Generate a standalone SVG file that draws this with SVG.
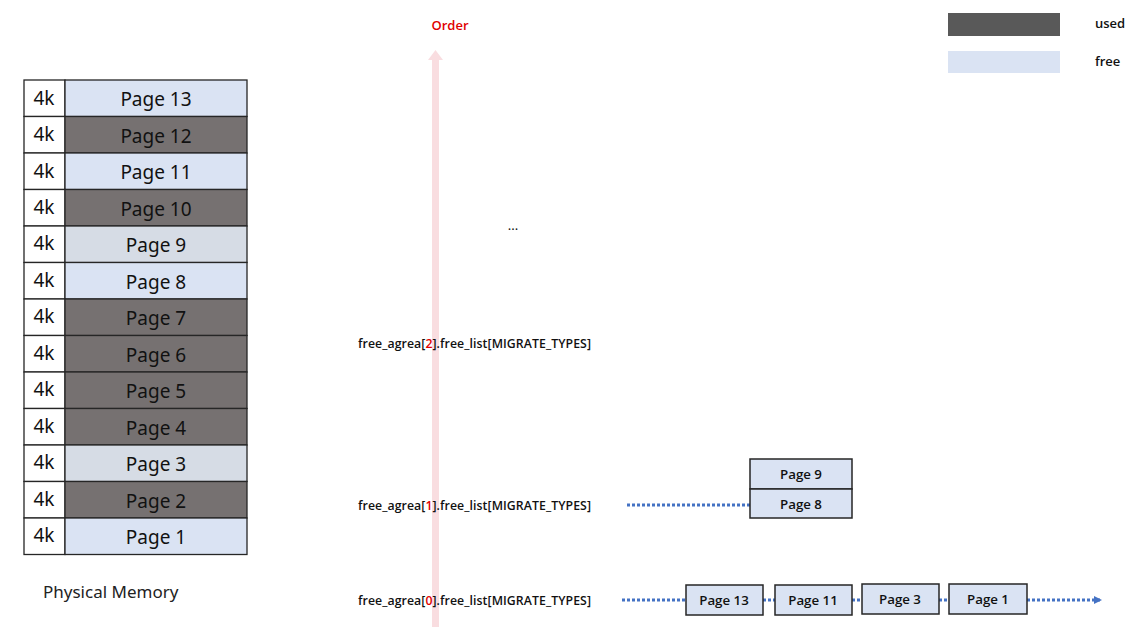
<svg xmlns="http://www.w3.org/2000/svg" width="1139" height="627" viewBox="0 0 1139 627">
<style>
.cell{stroke:#262626;stroke-width:1.3}
.k{fill:#fff}
.free{fill:#DAE3F3}
.used{fill:#767171}
.grey{fill:#D6DCE5}
.t{font-family:"Noto Sans","Open Sans",sans-serif;font-size:19px;fill:#111;text-anchor:middle}
.lbl{font-family:"Open Sans","Noto Sans",sans-serif;font-size:12.3px;font-weight:600;fill:#111}
.red{fill:#E00000}
.box{fill:#DAE3F3;stroke:#262626;stroke-width:1.5}
.bt{font-family:"Open Sans","Noto Sans",sans-serif;font-size:13.3px;font-weight:600;fill:#111;text-anchor:middle}
.dot{stroke:#4472C4;stroke-width:3;stroke-dasharray:3 2;fill:none}
</style>
<defs>
<marker id="ah" markerWidth="8" markerHeight="8" refX="6" refY="4" orient="auto" markerUnits="userSpaceOnUse">
<path d="M0,0 L8,4 L0,8 Z" fill="#4472C4"/>
</marker>
</defs>
<rect width="1139" height="627" fill="#fff"/>
<g id="order-arrow">
<path d="M432,627 L432,60 L428,60 L435.5,50 L443,60 L439,60 L439,627 Z" fill="#F9DDE0"/>
</g>
<text x="450" y="30" class="lbl red" style="font-size:13px" text-anchor="middle" font-weight="700">Order</text>
<g id="legend">
<rect x="948" y="13" width="112" height="23" fill="#595959"/>
<text x="1095" y="28" class="lbl" style="font-size:13px">used</text>
<rect x="948" y="51" width="112" height="22" fill="#DAE3F3"/>
<text x="1095" y="66" class="lbl" style="font-size:13px">free</text>
</g>
<g id="physical-memory">
<rect class="cell k" x="24" y="80" width="41" height="36.5"/><rect class="cell free" x="65" y="80" width="182" height="36.5"/><text class="t" x="44" y="105">4k</text><text class="t" x="156" y="106">Page 13</text>
<rect class="cell k" x="24" y="116.5" width="41" height="36.5"/><rect class="cell used" x="65" y="116.5" width="182" height="36.5"/><text class="t" x="44" y="141">4k</text><text class="t" x="156" y="143">Page 12</text>
<rect class="cell k" x="24" y="153" width="41" height="36.5"/><rect class="cell free" x="65" y="153" width="182" height="36.5"/><text class="t" x="44" y="178">4k</text><text class="t" x="156" y="179">Page 11</text>
<rect class="cell k" x="24" y="189.5" width="41" height="36.5"/><rect class="cell used" x="65" y="189.5" width="182" height="36.5"/><text class="t" x="44" y="214">4k</text><text class="t" x="156" y="216">Page 10</text>
<rect class="cell k" x="24" y="226" width="41" height="36.5"/><rect class="cell grey" x="65" y="226" width="182" height="36.5"/><text class="t" x="44" y="250">4k</text><text class="t" x="156" y="252">Page 9</text>
<rect class="cell k" x="24" y="262.5" width="41" height="36.5"/><rect class="cell free" x="65" y="262.5" width="182" height="36.5"/><text class="t" x="44" y="287">4k</text><text class="t" x="156" y="289">Page 8</text>
<rect class="cell k" x="24" y="299" width="41" height="36.5"/><rect class="cell used" x="65" y="299" width="182" height="36.5"/><text class="t" x="44" y="323">4k</text><text class="t" x="156" y="325">Page 7</text>
<rect class="cell k" x="24" y="335.5" width="41" height="36.5"/><rect class="cell used" x="65" y="335.5" width="182" height="36.5"/><text class="t" x="44" y="360">4k</text><text class="t" x="156" y="362">Page 6</text>
<rect class="cell k" x="24" y="372" width="41" height="36.5"/><rect class="cell used" x="65" y="372" width="182" height="36.5"/><text class="t" x="44" y="396">4k</text><text class="t" x="156" y="398">Page 5</text>
<rect class="cell k" x="24" y="408.5" width="41" height="36.5"/><rect class="cell used" x="65" y="408.5" width="182" height="36.5"/><text class="t" x="44" y="433">4k</text><text class="t" x="156" y="435">Page 4</text>
<rect class="cell k" x="24" y="445" width="41" height="36.5"/><rect class="cell grey" x="65" y="445" width="182" height="36.5"/><text class="t" x="44" y="469">4k</text><text class="t" x="156" y="471">Page 3</text>
<rect class="cell k" x="24" y="481.5" width="41" height="36.5"/><rect class="cell used" x="65" y="481.5" width="182" height="36.5"/><text class="t" x="44" y="506">4k</text><text class="t" x="156" y="508">Page 2</text>
<rect class="cell k" x="24" y="518" width="41" height="36.5"/><rect class="cell free" x="65" y="518" width="182" height="36.5"/><text class="t" x="44" y="542">4k</text><text class="t" x="156" y="544">Page 1</text>
<text x="43" y="598" font-family="Noto Sans, Open Sans, sans-serif" font-size="17" fill="#222">Physical Memory</text>
</g>
<text x="513" y="230" font-family="Noto Sans, sans-serif" font-size="13" fill="#111" text-anchor="middle">...</text>
<g id="labels">
<text x="358" y="348" class="lbl" textLength="233" lengthAdjust="spacing">free_agrea[<tspan class="red">2</tspan>].free_list[MIGRATE_TYPES]</text>
<text x="358" y="510" class="lbl" textLength="233" lengthAdjust="spacing">free_agrea[<tspan class="red">1</tspan>].free_list[MIGRATE_TYPES]</text>
<text x="358" y="605" class="lbl" textLength="233" lengthAdjust="spacing">free_agrea[<tspan class="red">0</tspan>].free_list[MIGRATE_TYPES]</text>
</g>
<g id="connectors">
<line class="dot" x1="627" y1="505" x2="750" y2="505"/>
<line class="dot" x1="622" y1="600" x2="686" y2="600"/>
<line class="dot" x1="763" y1="600" x2="775" y2="600"/>
<line class="dot" x1="852" y1="600" x2="862" y2="600"/>
<line class="dot" x1="939" y1="600" x2="949" y2="600"/>
<line class="dot" x1="1027" y1="600" x2="1100" y2="600" marker-end="url(#ah)"/>
</g>
<g id="order1">
<rect class="box" x="750" y="459" width="102" height="30"/><text class="bt" x="801" y="479">Page 9</text>
<rect class="box" x="750" y="489" width="102" height="29"/><text class="bt" x="801" y="509">Page 8</text>
</g>
<g id="order0">
<rect class="box" x="686" y="585" width="77" height="30"/><text class="bt" x="724" y="605">Page 13</text>
<rect class="box" x="775" y="585" width="77" height="30"/><text class="bt" x="813" y="605">Page 11</text>
<rect class="box" x="862" y="584" width="77" height="30"/><text class="bt" x="900" y="604">Page 3</text>
<rect class="box" x="949" y="584" width="78" height="30"/><text class="bt" x="988" y="604">Page 1</text>
</g>
</svg>
